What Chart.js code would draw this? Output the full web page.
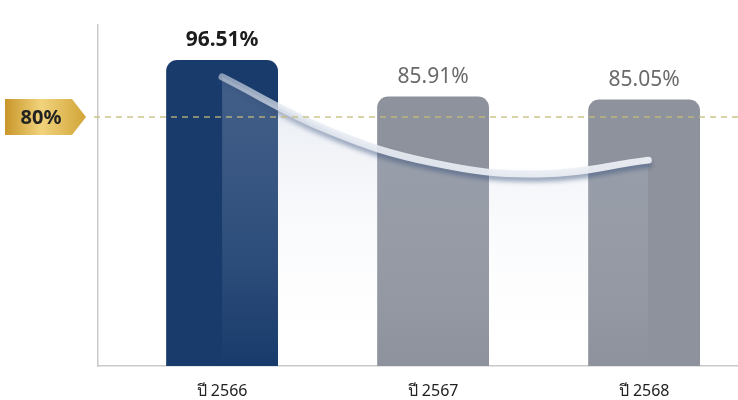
<!DOCTYPE html>
<html>
<head>
<meta charset="utf-8">
<script src="https://cdn.jsdelivr.net/npm/chart.js@4.4.1/dist/chart.umd.min.js"></script>
<style>
  html, body { margin: 0; padding: 0; background: #ffffff; }
  #wrap { width: 738px; height: 400px; }
</style>
</head>
<body>
<div id="wrap"><canvas id="chart"></canvas></div>
<script>
// Données
const categories = ["ปี 2566", "ปี 2567", "ปี 2568"];
const values = [96.51, 85.91, 85.05];
const barColors = ["#183b6c", "#8d929c", "#8d929c"];
const targetValue = 80;
const targetLabel = "80%";

// courbe décorative
const trendX = [0, 0.5, 1, 1.5, 2.02];
const trendValues = [91.6, 76.2, 66.7, 63.5, 67.5];

const fontFamily = "'Noto Sans', 'Open Sans', sans-serif";

const barData = values.map((v, i) => ({ x: i, y: v }));
const trendData = trendX.map((x, i) => ({ x: x, y: trendValues[i] }));

// ombre pour la courbe
const shadowPlugin = {
  id: "shadowLine",
  beforeDatasetDraw(chart, args) {
    if (args.index === 2) {
      const ctx = chart.ctx;
      ctx.save();
      ctx.shadowColor = "rgba(50, 75, 120, 0.55)";
      ctx.shadowBlur = 5;
      ctx.shadowOffsetY = 4;
    }
  },
  afterDatasetDraw(chart, args) {
    if (args.index === 2) chart.ctx.restore();
  },
};

// étiquettes + ligne 80% + badge
const decoPlugin = {
  id: "deco",
  afterDatasetsDraw(chart) {
    const ctx = chart.ctx;
    const area = chart.chartArea;
    const yScale = chart.scales.y;
    const y80 = yScale.getPixelForValue(targetValue);

    // ligne pointillée
    ctx.save();
    ctx.strokeStyle = "rgba(196, 186, 120, 0.85)";
    ctx.lineWidth = 1.5;
    ctx.setLineDash([6, 5]);
    ctx.beginPath();
    ctx.moveTo(area.left - 4, y80);
    ctx.lineTo(area.right, y80);
    ctx.stroke();
    ctx.restore();

    // badge doré
    const left = area.left - 93;
    const tip = area.left - 12;
    const h = 36;
    ctx.save();
    const g = ctx.createLinearGradient(left, 0, tip, 0);
    g.addColorStop(0, "#c8962a");
    g.addColorStop(0.45, "#f1d37c");
    g.addColorStop(1, "#d1a437");
    ctx.fillStyle = g;
    ctx.beginPath();
    ctx.moveTo(left, y80 - h / 2);
    ctx.lineTo(tip - 14, y80 - h / 2);
    ctx.lineTo(tip, y80);
    ctx.lineTo(tip - 14, y80 + h / 2);
    ctx.lineTo(left, y80 + h / 2);
    ctx.closePath();
    ctx.fill();
    ctx.fillStyle = "#222222";
    ctx.font = "bold 20px " + fontFamily;
    ctx.textAlign = "center";
    ctx.textBaseline = "middle";
    ctx.fillText(targetLabel, left + 36, y80 + 1);
    ctx.restore();

    // valeurs au-dessus des barres
    const meta = chart.getDatasetMeta(0);
    ctx.save();
    ctx.textAlign = "center";
    ctx.textBaseline = "middle";
    meta.data.forEach((bar, i) => {
      if (i === 0) {
        ctx.font = "bold 21px " + fontFamily;
        ctx.fillStyle = "#1c1c1c";
      } else {
        ctx.font = "21px " + fontFamily;
        ctx.fillStyle = "#6a6a6a";
      }
      ctx.fillText(values[i].toFixed(2) + "%", bar.x, bar.y - 20);
    });
    ctx.restore();
  },
};

new Chart("chart", {
  data: {
    datasets: [
      {
        type: "bar",
        data: barData,
        backgroundColor: barColors,
        borderRadius: 11,
        borderSkipped: "bottom",
        categoryPercentage: 1,
        barPercentage: 0.53,
        order: 3,
      },
      {
        // remplissage sous la courbe
        type: "line",
        data: trendData,
        tension: 0.4,
        borderWidth: 0,
        pointRadius: 0,
        fill: "origin",
        backgroundColor: (c) => {
          const a = c.chart.chartArea;
          if (!a) return "rgba(0,0,0,0)";
          const g = c.chart.ctx.createLinearGradient(0, a.top + 60, 0, a.bottom);
          g.addColorStop(0, "rgba(170, 184, 208, 0.28)");
          g.addColorStop(0.55, "rgba(215, 222, 235, 0.12)");
          g.addColorStop(1, "rgba(255, 255, 255, 0)");
          return g;
        },
        order: 2,
      },
      {
        // la courbe blanche
        type: "line",
        data: trendData,
        tension: 0.4,
        borderWidth: 7,
        borderCapStyle: "round",
        pointRadius: 0,
        fill: false,
        borderColor: (c) => {
          const a = c.chart.chartArea;
          if (!a) return "#e6eaf0";
          const g = c.chart.ctx.createLinearGradient(a.left + 120, 0, a.right - 80, 0);
          g.addColorStop(0, "rgba(225, 231, 240, 0.55)");
          g.addColorStop(0.3, "rgba(232, 236, 243, 0.9)");
          g.addColorStop(1, "rgba(236, 239, 244, 0.95)");
          return g;
        },
        order: 1,
      },
    ],
  },
  options: {
    responsive: true,
    maintainAspectRatio: false,
    animation: false,
    layout: { padding: { left: 98, top: 25, right: 0, bottom: 0 } },
    plugins: {
      legend: { display: false },
      tooltip: { enabled: false },
    },
    scales: {
      x: {
        type: "linear",
        offset: false,
        min: -0.588,
        max: 2.445,
        afterFit: (scale) => { scale.height = 34; },
        grid: { display: false, drawTicks: false },
        border: { display: true, color: "#c9c9c9", width: 1.5 },
        ticks: {
          stepSize: 1,
          includeBounds: false,
          autoSkip: false,
          maxRotation: 0,
          padding: 16,
          color: "#222222",
          font: { family: fontFamily, size: 16 },
          callback: (v) => (Number.isInteger(v) ? categories[v] : ""),
        },
      },
      y: {
        min: 7.87,
        max: 106.65,
        grid: { display: false, drawTicks: false },
        border: { display: true, color: "#c9c9c9", width: 1.5 },
        ticks: { display: false },
      },
    },
  },
  plugins: [shadowPlugin, decoPlugin],
});
</script>
</body>
</html>
